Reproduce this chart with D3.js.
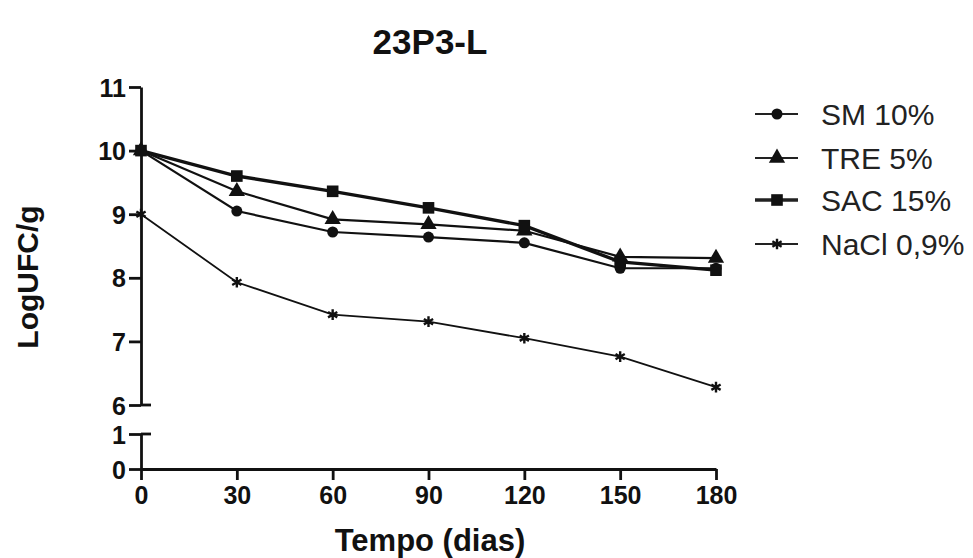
<!DOCTYPE html>
<html><head><meta charset="utf-8">
<script src="https://cdn.jsdelivr.net/npm/d3@7"></script>
<style>body{margin:0;background:#fff}svg{display:block}text{font-family:"Liberation Sans",Arial,sans-serif}</style>
</head><body>
<script>
const days = [0, 30, 60, 90, 120, 150, 180];
const seriesNames = ["SM 10%", "TRE 5%", "SAC 15%", "NaCl 0,9%"];
const sm10   = [10.0, 9.05, 8.72, 8.64, 8.55, 8.15, 8.15];
const tre5   = [10.0, 9.36, 8.92, 8.84, 8.74, 8.33, 8.31];
const sac15  = [10.0, 9.60, 9.36, 9.10, 8.82, 8.25, 8.12];
const nacl09 = [9.0, 7.93, 7.42, 7.31, 7.05, 6.76, 6.28];
const xTicks = [0, 30, 60, 90, 120, 150, 180];
const yTicksUpper = [6, 7, 8, 9, 10, 11];
const yTicksLower = [0, 1];

const W = 973, H = 558;
const svg = d3.select("body").append("svg").attr("width", W).attr("height", H);

const x = d3.scaleLinear().domain([0, 180]).range([141, 716]);
const yU = d3.scaleLinear().domain([6, 11]).range([405, 87]);
const yL = d3.scaleLinear().domain([0, 1]).range([469, 434]);

const axisColor = "#111";
svg.append("text").attr("x", 430).attr("y", 54).attr("text-anchor", "middle")
  .attr("font-size", 35).attr("font-weight", "bold").attr("fill", "#111").text("23P3-L");

const fmt = d3.format("d");
const gU = svg.append("g").attr("transform", `translate(${x(0)},0)`)
  .call(d3.axisLeft(yU).tickValues(yTicksUpper).tickFormat(fmt).tickSize(12).tickPadding(3).tickSizeOuter(0));
const gL = svg.append("g").attr("transform", `translate(${x(0)},0)`)
  .call(d3.axisLeft(yL).tickValues(yTicksLower).tickFormat(fmt).tickSize(12).tickPadding(3).tickSizeOuter(0));
const gX = svg.append("g").attr("transform", `translate(0,${yL(0)})`)
  .call(d3.axisBottom(x).tickValues(xTicks).tickFormat(fmt).tickSize(11).tickPadding(6).tickSizeOuter(0));

[gU, gL, gX].forEach(g => {
  g.select(".domain").attr("stroke", axisColor).attr("stroke-width", 2.8);
  g.selectAll(".tick line").attr("stroke", axisColor).attr("stroke-width", 2.8);
  g.selectAll(".tick text").attr("font-size", 25).attr("font-weight", "bold")
    .attr("fill", "#111").attr("font-family", '"Liberation Sans",Arial,sans-serif');
});
gU.selectAll(".tick text").attr("dy", "0.36em");
gL.selectAll(".tick text").attr("dy", "0.36em");
svg.append("line").attr("x1", x(0)).attr("x2", x(0) + 10).attr("y1", yU(6)).attr("y2", yU(6))
  .attr("stroke", axisColor).attr("stroke-width", 2.8);
svg.append("line").attr("x1", x(0)).attr("x2", x(0) + 10).attr("y1", yL(1)).attr("y2", yL(1))
  .attr("stroke", axisColor).attr("stroke-width", 2.8);

svg.append("text").attr("x", 430).attr("y", 551).attr("text-anchor", "middle")
  .attr("font-size", 31).attr("font-weight", "bold").attr("fill", "#111").text("Tempo (dias)");
svg.append("text").attr("transform", "translate(38,277) rotate(-90)").attr("text-anchor", "middle")
  .attr("font-size", 30).attr("font-weight", "bold").attr("fill", "#111").text("LogUFC/g");

const series = [
  {name: seriesNames[0], vals: sm10, sym: d3.symbolCircle, size: 95, lw: 2.2},
  {name: seriesNames[1], vals: tre5, sym: d3.symbolTriangle, size: 115, lw: 2.2},
  {name: seriesNames[2], vals: sac15, sym: d3.symbolSquare, size: 135, lw: 3.4},
  {name: seriesNames[3], vals: nacl09, sym: d3.symbolAsterisk, size: 80, lw: 1.8, stroke: true}
];
const line = d3.line().x(d => x(d[0])).y(d => yU(d[1]));
series.forEach(s => {
  const pts = days.map((d, i) => [d, s.vals[i]]);
  svg.append("path").datum(pts).attr("d", line).attr("fill", "none")
    .attr("stroke", "#111").attr("stroke-width", s.lw);
});
series.forEach(s => {
  const pts = days.map((d, i) => [d, s.vals[i]]);
  svg.selectAll(null).data(pts).enter().append("path")
    .attr("transform", d => `translate(${x(d[0])},${yU(d[1])})`)
    .attr("d", d3.symbol().type(s.sym).size(s.size))
    .attr("fill", s.stroke ? "none" : "#111")
    .attr("stroke", "#111").attr("stroke-width", s.stroke ? 2.4 : 0);
});

const legY = [114, 158, 200, 244];
series.forEach((s, i) => {
  const g = svg.append("g").attr("transform", `translate(0,${legY[i]})`);
  g.append("line").attr("x1", 755).attr("x2", 798).attr("y1", 0).attr("y2", 0)
    .attr("stroke", "#222").attr("stroke-width", s.lw);
  g.append("path").attr("transform", "translate(777,0)")
    .attr("d", d3.symbol().type(s.sym).size(s.size))
    .attr("fill", s.stroke ? "none" : "#111").attr("stroke", "#111").attr("stroke-width", s.stroke ? 2.4 : 0);
  g.append("text").attr("x", 821).attr("y", 0).attr("dy", "0.36em")
    .attr("font-size", 30).attr("fill", "#222").text(s.name);
});
</script>
</body></html>
